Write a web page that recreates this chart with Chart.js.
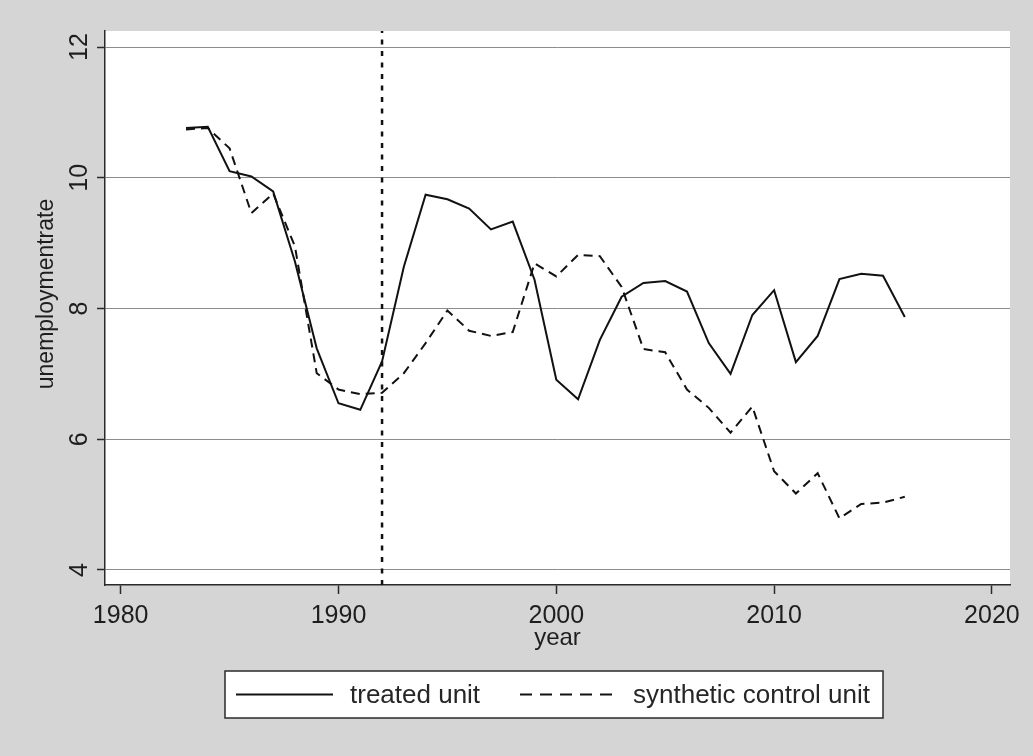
<!DOCTYPE html>
<html>
<head>
<meta charset="utf-8">
<title>unemploymentrate: treated vs synthetic control</title>
<script src="https://cdn.jsdelivr.net/npm/chart.js@4.4.1/dist/chart.umd.min.js"></script>
<style>
  html, body { margin: 0; padding: 0; background: #d5d5d5; }
  #wrap { position: relative; width: 1033px; height: 756px; }
  canvas { display: block; }
</style>
</head>
<body>
<div id="wrap"><canvas id="chart" width="1033" height="756"></canvas></div>
<script>
// Years covered by both series
const years = [1983, 1984, 1985, 1986, 1987, 1988, 1989, 1990, 1991, 1992,
               1993, 1994, 1995, 1996, 1997, 1998, 1999, 2000, 2001, 2002,
               2003, 2004, 2005, 2006, 2007, 2008, 2009, 2010, 2011, 2012,
               2013, 2014, 2015, 2016];

// Unemployment rate of the treated unit
const treatedUnit = [10.76, 10.78, 10.10, 10.02, 9.79, 8.72, 7.39, 6.55, 6.45, 7.19,
                     8.64, 9.74, 9.67, 9.53, 9.21, 9.33, 8.44, 6.91, 6.61, 7.52,
                     8.18, 8.39, 8.42, 8.26, 7.47, 7.00, 7.90, 8.28, 7.18, 7.58,
                     8.45, 8.53, 8.50, 7.87];

// Unemployment rate of the synthetic control unit
const syntheticUnit = [10.74, 10.76, 10.45, 9.46, 9.76, 8.95, 7.01, 6.76, 6.69, 6.71,
                       7.01, 7.47, 7.97, 7.66, 7.58, 7.64, 8.69, 8.49, 8.82, 8.80,
                       8.33, 7.38, 7.33, 6.76, 6.48, 6.10, 6.50, 5.51, 5.17, 5.48,
                       4.79, 5.01, 5.03, 5.12];

// Treatment year (vertical reference line)
const treatmentYear = [1992];

// Axis ticks and ranges
const xTicks = [1980, 1990, 2000, 2010, 2020];
const yTicks = [4, 6, 8, 10, 12];
const xRange = [1979.28, 2020.83];
const yRange = [3.77, 12.245];

// Axis titles and legend entries
const xTitle = 'year';
const yTitle = 'unemploymentrate';
const seriesNames = ['treated unit', 'synthetic control unit'];

const FONT = '"Liberation Sans", Arial, Helvetica, sans-serif';
const INK = '#1e1e1e';

const toPoints = (xs, ys) => xs.map((x, i) => ({ x: x, y: ys[i] }));

// White plotting region over the grey page
const plotBackground = {
  id: 'plotBackground',
  beforeDraw(chart) {
    const { ctx, chartArea: a } = chart;
    ctx.save();
    ctx.fillStyle = '#ffffff';
    ctx.fillRect(a.left, a.top, a.right - a.left, a.bottom - a.top);
    ctx.restore();
  }
};

// Vertical y-axis title, placed a little above the middle of the axis
const yAxisTitle = {
  id: 'yAxisTitle',
  afterDraw(chart) {
    const ctx = chart.ctx;
    const s = chart.scales.y;
    const cy = (s.top + s.bottom) / 2 - 14;
    ctx.save();
    ctx.translate(47, cy);
    ctx.rotate(-Math.PI / 2);
    ctx.fillStyle = INK;
    ctx.font = '23px ' + FONT;
    ctx.textAlign = 'center';
    ctx.textBaseline = 'middle';
    ctx.fillText(yTitle, 0, 0);
    ctx.restore();
  }
};

// Framed legend below the x-axis title
const boxedLegend = {
  id: 'boxedLegend',
  afterDraw(chart) {
    const ctx = chart.ctx;
    const box = { x: 225, y: 671, w: 658, h: 47 };
    const cy = box.y + box.h / 2;
    ctx.save();
    ctx.fillStyle = '#ffffff';
    ctx.fillRect(box.x, box.y, box.w, box.h);
    ctx.strokeStyle = '#2a2a2a';
    ctx.lineWidth = 1.5;
    ctx.strokeRect(box.x, box.y, box.w, box.h);

    const items = [
      { x0: 236, x1: 333, tx: 350, dash: [] },
      { x0: 520, x1: 617, tx: 633, dash: [12, 8] }
    ];
    items.forEach((it, i) => {
      ctx.beginPath();
      ctx.setLineDash(it.dash);
      ctx.strokeStyle = '#111111';
      ctx.lineWidth = 2;
      ctx.moveTo(it.x0, cy);
      ctx.lineTo(it.x1, cy);
      ctx.stroke();
      ctx.setLineDash([]);
      ctx.fillStyle = '#262626';
      ctx.font = '26px ' + FONT;
      ctx.textAlign = 'left';
      ctx.textBaseline = 'middle';
      ctx.fillText(seriesNames[i], it.tx, cy + 1);
    });
    ctx.restore();
  }
};

new Chart(document.getElementById('chart'), {
  type: 'line',
  data: {
    datasets: [
      {
        label: seriesNames[0],
        data: toPoints(years, treatedUnit),
        borderColor: '#111111',
        borderWidth: 2,
        pointRadius: 0,
        tension: 0,
        fill: false
      },
      {
        label: seriesNames[1],
        data: toPoints(years, syntheticUnit),
        borderColor: '#111111',
        borderWidth: 2,
        borderDash: [9, 6],
        pointRadius: 0,
        tension: 0,
        fill: false
      },
      {
        label: 'treatment',
        data: [{ x: treatmentYear[0], y: yRange[0] }, { x: treatmentYear[0], y: yRange[1] }],
        borderColor: '#111111',
        borderWidth: 2.5,
        borderDash: [5, 6.5],
        pointRadius: 0,
        fill: false
      }
    ]
  },
  options: {
    responsive: false,
    animation: false,
    events: [],
    layout: { padding: { top: 31, right: 23, left: 0, bottom: 0 } },
    plugins: {
      legend: { display: false },
      tooltip: { enabled: false }
    },
    scales: {
      x: {
        type: 'linear',
        position: 'bottom',
        min: xRange[0],
        max: xRange[1],
        afterBuildTicks: (s) => { s.ticks = xTicks.map(v => ({ value: v })); },
        afterFit: (s) => { s.height = 171; },
        border: { display: true, color: '#2a2a2a', width: 1.5 },
        grid: { drawOnChartArea: false, drawTicks: true, tickLength: 9, tickColor: '#2a2a2a', tickWidth: 1.5 },
        ticks: {
          padding: 7,
          color: INK,
          font: { family: FONT, size: 25 },
          maxRotation: 0,
          minRotation: 0,
          callback: (v) => String(v)
        },
        title: {
          display: true,
          text: xTitle,
          color: INK,
          font: { family: FONT, size: 24 },
          padding: { top: 0, bottom: 103 }
        }
      },
      y: {
        type: 'linear',
        position: 'left',
        min: yRange[0],
        max: yRange[1],
        afterBuildTicks: (s) => { s.ticks = yTicks.map(v => ({ value: v })); },
        afterFit: (s) => { s.width = 105; },
        border: { display: true, color: '#2a2a2a', width: 1.5 },
        grid: { color: '#8c8c8c', lineWidth: 1, drawTicks: true, tickLength: 8, tickColor: '#2a2a2a', tickWidth: 1.5 },
        ticks: {
          padding: 3,
          color: INK,
          font: { family: FONT, size: 25 },
          minRotation: 90,
          maxRotation: 90,
          crossAlign: 'center',
          callback: (v) => String(v)
        },
        title: { display: false }
      }
    }
  },
  plugins: [plotBackground, yAxisTitle, boxedLegend]
});
</script>
</body>
</html>
